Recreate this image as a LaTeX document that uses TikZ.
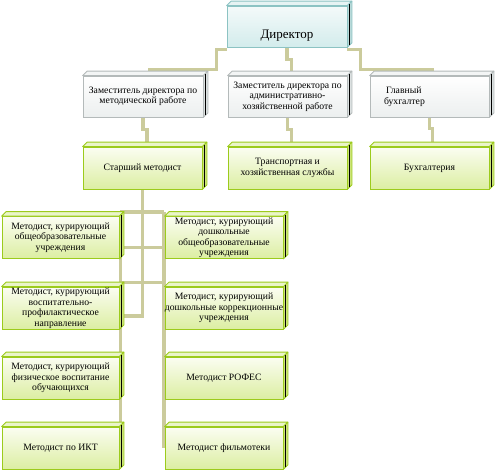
\documentclass[tikz,border=0pt]{standalone}
\usepackage{fontspec}
\setmainfont{Liberation Serif}
\usetikzlibrary{calc}
\pgfdeclarelayer{bg}
\pgfsetlayers{bg,main}
\definecolor{conn}{HTML}{CBCB9C}
\definecolor{gedge}{HTML}{9CCB1C}
\definecolor{gtop}{HTML}{FBFDF2}
\definecolor{gbot}{HTML}{DCEEA2}
\definecolor{gface}{HTML}{EAF5C8}
\definecolor{gside}{HTML}{CDE47A}
\definecolor{dedge}{HTML}{8CC3C3}
\definecolor{dtop}{HTML}{F4FAFA}
\definecolor{dbot}{HTML}{D3ECEC}
\definecolor{dface}{HTML}{E6F3F3}
\definecolor{dside}{HTML}{B9DADA}
\definecolor{zedge}{HTML}{B4BABA}
\definecolor{ztop}{HTML}{FFFFFF}
\definecolor{zbot}{HTML}{ECEFEF}
\definecolor{zface}{HTML}{F3F5F5}
\definecolor{zside}{HTML}{DCE1E1}
\newcommand\boxfaces[4]{%
  \filldraw[fill=#3,draw=#2,line width=0.8pt,line join=round]
    (#1.north west) -- ++(4.5,-4.5) -- ([shift={(4.5,-4.5)}]#1.north east) -- (#1.north east) -- cycle;
  \filldraw[fill=#4,draw=#2,line width=0.8pt,line join=round]
    (#1.north east) -- ++(4.5,-4.5) -- ([shift={(4.5,-4.5)}]#1.south east) -- (#1.south east) -- cycle;
  \draw[black,line width=1.1pt] ([shift={(2,-1.5)}]#1.north east) -- ([shift={(2,-2)}]#1.south east);
}
\tikzset{
  txt/.style={font=\fontsize{9.7}{10.5}\selectfont},
  gbox/.style={txt,draw=gedge,line width=0.8pt,top color=gtop,bottom color=gbot,
    minimum height=42pt,inner sep=0pt,align=center},
  zbox/.style={txt,draw=zedge,line width=0.8pt,top color=ztop,bottom color=zbot,
    minimum height=41pt,inner sep=0pt,align=center},
  dbox/.style={font=\fontsize{13}{15}\selectfont,draw=dedge,line width=0.8pt,top color=dtop,bottom color=dbot,
    minimum height=41pt,inner sep=0pt,align=center},
  conn/.style={draw=conn,line width=3.5pt}
}
\begin{document}
\begin{tikzpicture}[x=1pt,y=-1pt]
\useasboundingbox (0,0) rectangle (496,472);
% level 1
\node[dbox,minimum width=120pt,text height=23pt,text depth=0pt] (D) at (287,26.5) {Директор};
% level 2
\node[zbox,minimum width=120pt] (Z1) at (143,96.5) {Заместитель директора по\\методической работе};
\node[zbox,minimum width=119pt] (Z2) at (287.5,96.5) {Заместитель директора по\\административно-\\хозяйственной работе};
\node[zbox,minimum width=119pt,align=left,text width=91pt] (Z3) at (429.5,96.5) {\hspace*{2pt}Главный\\бухгалтер};
% level 3
\node[gbox,minimum width=119pt] (S) at (142.5,168) {Старший методист};
\node[gbox,minimum width=119pt] (T) at (287.5,168) {Транспортная и\\хозяйственная службы};
\node[gbox,minimum width=119pt] (B) at (429.5,168) {Бухгалтерия};
% methodists
\node[gbox,minimum width=117pt] (L1) at (60.5,237.5) {Методист, курирующий\\общеобразовательные\\учреждения};
\node[gbox,minimum width=118pt] (R1) at (224,237.5) {Методист, курирующий\\дошкольные\\общеобразовательные\\учреждения};
\node[gbox,minimum width=117pt] (L2) at (60.5,308) {Методист, курирующий\\воспитательно-\\профилактическое\\направление};
\node[gbox,minimum width=118pt] (R2) at (224,308) {Методист, курирующий\\дошкольные коррекционные\\учреждения};
\node[gbox,minimum width=117pt] (L3) at (60.5,378) {Методист, курирующий\\физическое воспитание\\обучающихся};
\node[gbox,minimum width=118pt] (R3) at (224,378) {Методист РОФЕС};
\node[gbox,minimum width=117pt] (L4) at (60.5,448) {Методист по ИКТ};
\node[gbox,minimum width=118pt] (R4) at (224,448) {Методист фильмотеки};
% 3D faces
\boxfaces{D}{dedge}{dface}{dside}
\foreach \n in {Z1,Z2,Z3}{\boxfaces{\n}{zedge}{zface}{zside}}
\foreach \n in {S,T,B,L1,R1,L2,R2,L3,R3,L4,R4}{\boxfaces{\n}{gedge}{gface}{gside}}
% connectors
\begin{pgfonlayer}{bg}
\draw[conn] ([yshift=-2pt]D.south west) -- ++(-10,0) |- ([xshift=5pt,yshift=6pt]Z1.north);
\draw[conn] (D.south) -- ++(0,12) -| ([xshift=4pt,yshift=4pt]Z2.north);
\draw[conn] ([yshift=-2pt]D.south east) -- ++(13,0) |- ([xshift=4pt,yshift=6pt]Z3.north);
\draw[conn] (Z1.south) -- ++(0,12) -| ([xshift=4.5pt,yshift=4pt]S.north);
\draw[conn] (Z2.south) -- ++(0,12) -| ([xshift=4pt,yshift=4pt]T.north);
\draw[conn] (Z3.south) -- ++(0,11) -| ([xshift=3pt,yshift=4pt]B.north);
\coordinate (lt) at ([xshift=1pt,yshift=4pt]L1.north east);
\coordinate (rt) at ([xshift=-0.5pt,yshift=4pt]R1.north west);
\draw[conn] (S.south) |- ([xshift=1pt,yshift=-8pt]L2.east);
\draw[conn] (lt) -- (rt);
\draw[conn] (lt) -- (lt |- L4.east);
\draw[conn] (rt) -- (rt |- R4.west);
\draw[conn] ([xshift=1pt,yshift=-10pt]L1.east) -- ([xshift=-0.5pt,yshift=-10pt]R1.west);
\draw[conn] ([xshift=1pt,yshift=4pt]L2.north east) -- ([xshift=-0.5pt,yshift=4pt]R2.north west);
\end{pgfonlayer}
\end{tikzpicture}
\end{document}
